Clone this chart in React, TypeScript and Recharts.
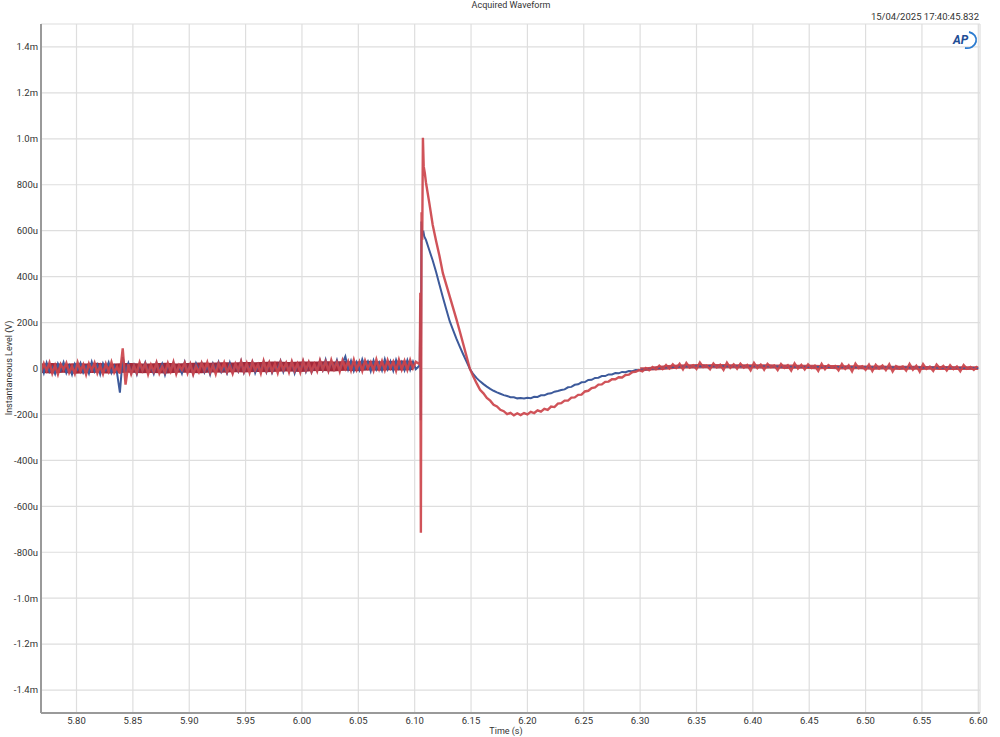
import { Area, CartesianGrid, ComposedChart, Line, XAxis, YAxis } from "recharts";

// time axis (s) and level ticks (uV)
const timeTicks = [5.8, 5.85, 5.9, 5.95, 6.0, 6.05, 6.1, 6.15, 6.2, 6.25, 6.3, 6.35, 6.4, 6.45, 6.5, 6.55, 6.6];
const levelTicks = [-1400, -1200, -1000, -800, -600, -400, -200, 0, 200, 400, 600, 800, 1000, 1200, 1400];

// pre-trigger noise, sampled every 2.5 ms from 5.7685 s
const baseStart = 5.7685;
const baseStep = 0.0025;
const blueBase = [
  18, -20, 25, -14, 6, -24, 21, -8, 27, -19,
  12, -26, 20, -3, 24, -17, 9, -22, 28, -12,
  16, -25, 22, -6, 26, -18, 11, -21, -105, 50,
  -15, 23, -20, 14, -25, 19, -9, 26, -16, 8,
  -23, 24, -11, 20, -27, 15, -5, 25, -19, 10,
  -22, 27, -14, 18, -24, 22, -7, 23, -17, 13,
  -26, 21, -10, 28, -15, 6, -21, 25, -18, 17,
  -12, 32, -17, 20, -6, 29, -19, 15, -10, 30,
  -15, 24, -18, 12, -4, 33, -14, 22, -11, 27,
  -20, 18, -8, 31, -13, 25, -16, 14, -9, 34,
  -5, 38, -9, 29, 0, 36, -8, 24, 52, -3,
  33, -10, 27, -6, 39, 2, 30, -11, 35, -4,
  26, -8, 40, -2, 31, -9, 37, 1, 28, -7,
  36, -5, 30, -3
];
const redBase = [
  -16, 22, -9, 26, -21, 14, -25, 19, -4, 24,
  -18, 10, -23, 27, -11, 17, -26, 21, -7, 25,
  -20, 13, -24, 20, -13, 28, -17, 8, -22, 88,
  -70, 18, -24, 12, -19, 27, -8, 21, -25, 16,
  -14, 26, -21, 9, -18, 23, -12, 28, -23, 14,
  -6, 25, -20, 19, -26, 11, -15, 24, -9, 27,
  -18, 15, -24, 22, -8, 26, -16, 12, -22, 20,
  -9, 31, -14, 23, -18, 28, -7, 17, -21, 32,
  -11, 26, -13, 20, -19, 29, -6, 24, -16, 30,
  -10, 21, -17, 33, -7, 27, -14, 19, -12, 35,
  -4, 30, -10, 37, -2, 28, -12, 35, 0, 31,
  -8, 38, -5, 29, -11, 34, 1, 27, -9, 39,
  -3, 32, -7, 36, 2, 30, -10, 38, -4, 33,
  -6, 37, 1, 29
];
// envelope of the overlapping pre-trigger noise, every 10 ms
const bandStep = 0.01;
const baseLo = [
  -20, -22, -19, -23, -21, -18, -22, -20, -19, -21, -20, -22, -18, -19, -21, -17, -18,
  -16, -17, -15, -16, -14, -13, -15, -12, -11, -13, -10, -12, -9, -10, -8, -9, -7
];
const baseHi = [
  22, 24, 21, 23, 22, 25, 21, 23, 24, 22, 23, 25, 22, 24, 26, 25, 27,
  26, 28, 27, 29, 30, 28, 31, 30, 32, 31, 33, 31, 34, 32, 33, 35, 33
];

// trigger transient
const blueEventT = [6.1045, 6.105, 6.1054, 6.106, 6.1068, 6.1076, 6.1085];
const blueEventV = [14, 300, -225, 640, 580, 600, 575];
const redEventT = [6.1045, 6.105, 6.1055, 6.1061, 6.1067, 6.1073, 6.108, 6.109];
const redEventV = [18, 330, -715, 680, 560, 1005, 880, 850];

// decay and undershoot, every 3 ms from 6.110 s
const decayStart = 6.11;
const decayStep = 0.003;
const blueDecay = [
  560, 515, 470, 420, 365, 310, 258, 207,
  168, 130, 95, 62, 30, -2, -25, -42,
  -56, -68, -79, -89, -97, -104, -110, -116,
  -120, -125, -125, -130, -128, -131, -127, -129,
  -123, -124, -117, -117, -110, -108, -101, -98,
  -94, -91, -82, -80, -71, -69, -60, -59,
  -50, -49, -41, -40, -33, -33, -26, -26,
  -20, -21, -15, -16, -11, -12, -7, -8
];
const redDecay = [
  810, 720, 625, 555, 490, 415, 365, 315,
  265, 215, 162, 108, 53, -2, -35, -65,
  -93, -108, -128, -140, -158, -165, -180, -186,
  -199, -193, -204, -195, -203, -194, -200, -189,
  -194, -182, -188, -176, -180, -166, -168, -153,
  -151, -140, -140, -127, -126, -115, -114, -100,
  -97, -85, -82, -70, -69, -58, -57, -47,
  -47, -38, -39, -28, -27, -16, -14, -7
];

// settled tail
const blueTailT = [6.302, 6.31, 6.32, 6.33, 6.34, 6.36, 6.38, 6.4, 6.43, 6.46, 6.5, 6.54, 6.57, 6.6];
const blueTailV = [-5, -1, 3, 7, 9, 11, 10, 10, 8, 7, 5, 4, 3, 2];
const tailStart = 6.302;
const tailStep = 0.003;
const redTail = [
  -12, 2, -8, 6, -3, 12, -2, 15, 0, 18,
  2, 20, -4, 24, 4, 14, -2, 26, 6, 12,
  -3, 22, 5, 16, -6, 25, 3, 18, -1, 21,
  4, 15, -8, 24, 2, 17, -5, 20, 6, 13,
  -7, 19, 3, 14, -9, 22, 0, 16, -4, 18,
  2, 12, -10, 20, -3, 15, 5, 11, -8, 19,
  -2, 14, -12, 21, 1, 10, -6, 17, -11, 16,
  0, 13, -7, 18, -13, 11, 3, 9, -9, 20,
  -5, 12, -14, 19, -2, 8, -10, 17, 1, 11,
  -8, 14, -3, 9, -12, 15, -1, 7, -6, 10
];
// envelope of the red tail noise, every 10 ms from 6.300 s
const tailBandStart = 6.3;
const tailLo = [-13, -9, -6, -2, 0, 0, 1, 0, 1, 0, 0, -1, 0, -2, -1, -2, -3, -2, -4, -3, -4, -5, -4, -6, -5, -6, -5, -7, -6, -7, -7];
const tailHi = [5, 8, 13, 16, 18, 20, 19, 20, 19, 19, 18, 18, 17, 17, 16, 16, 15, 15, 14, 14, 13, 13, 12, 12, 12, 11, 11, 11, 10, 10, 10];

type Pt = { t: number; v: number };

const uniform = (start: number, step: number, values: number[]): Pt[] =>
  values.map((v, i) => ({ t: +(start + i * step).toFixed(5), v }));
const pairs = (times: number[], values: number[]): Pt[] => times.map((t, i) => ({ t, v: values[i] }));
const band = (start: number, step: number, lo: number[], hi: number[]) =>
  lo.map((l, i) => ({ t: +(start + i * step).toFixed(5), range: [l, hi[i]] }));

const blueData = [
  ...uniform(baseStart, baseStep, blueBase),
  ...pairs(blueEventT, blueEventV),
  ...uniform(decayStart, decayStep, blueDecay),
  ...pairs(blueTailT, blueTailV)
];
const redData = [
  ...uniform(baseStart, baseStep, redBase),
  ...pairs(redEventT, redEventV),
  ...uniform(decayStart, decayStep, redDecay),
  ...uniform(tailStart, tailStep, redTail)
];
const baseBand = band(baseStart, bandStep, baseLo, baseHi);
const tailBand = band(tailBandStart, bandStep, tailLo, tailHi);

const levelFormatter = (v: number) => {
  if (v === 0) return "0";
  if (Math.abs(v) >= 1000) return `${(v / 1000).toFixed(1)}m`;
  return `${v}u`;
};

const font = "Roboto, 'Noto Sans', sans-serif";
const tickStyle = { fontSize: 9.5, fill: "#333", fontFamily: font };

export default function App() {
  return (
    <div style={{ position: "absolute", left: 0, top: 0, width: 1000, height: 737, background: "#fff", fontFamily: font }}>
      <div style={{ position: "absolute", top: 0, left: 0, width: 1022, textAlign: "center", fontSize: 9, color: "#333", lineHeight: "11px" }}>
        Acquired Waveform
      </div>
      <div style={{ position: "absolute", top: 10, right: 21, fontSize: 9.5, color: "#333", lineHeight: "14px" }}>
        15/04/2025 17:40:45.832
      </div>
      <ComposedChart width={1000} height={737} margin={{ top: 24, right: 20, left: 0, bottom: 0 }}>
        <CartesianGrid stroke="#dedede" strokeWidth={1.2} />
        <XAxis
          dataKey="t"
          type="number"
          domain={[5.7685, 6.6015]}
          ticks={timeTicks}
          tickFormatter={(v: number) => v.toFixed(2)}
          allowDataOverflow
          height={24}
          tick={tickStyle}
          tickLine={false}
          tickSize={0}
          tickMargin={4}
          axisLine={{ stroke: "#9a9a9a", strokeWidth: 2 }}
        />
        <XAxis xAxisId="top" orientation="top" type="number" domain={[0, 1]} height={0} tick={false} tickLine={false} axisLine={{ stroke: "#b0b0b0", strokeWidth: 1 }} />
        <YAxis
          type="number"
          domain={[-1500, 1500]}
          ticks={levelTicks}
          tickFormatter={levelFormatter}
          allowDataOverflow
          width={41}
          tick={tickStyle}
          tickLine={false}
          tickSize={0}
          tickMargin={3}
          axisLine={{ stroke: "#9a9a9a", strokeWidth: 2 }}
        />
        <YAxis yAxisId="right" orientation="right" type="number" domain={[0, 1]} width={0} tick={false} tickLine={false} axisLine={{ stroke: "#b0b0b0", strokeWidth: 1 }} />
        <Line
          data={blueData}
          dataKey="v"
          type="linear"
          stroke="#3d5a9b"
          strokeWidth={2}
          dot={false}
          activeDot={false}
          isAnimationActive={false}
        />
        <Line
          data={redData}
          dataKey="v"
          type="linear"
          stroke="#cc444b"
          strokeOpacity={0.92}
          strokeWidth={2.4}
          dot={false}
          activeDot={false}
          isAnimationActive={false}
        />
        <Area
          data={baseBand}
          dataKey="range"
          type="monotone"
          stroke="none"
          fill="#a2283a"
          fillOpacity={1}
          dot={false}
          activeDot={false}
          isAnimationActive={false}
        />
        <Area
          data={tailBand}
          dataKey="range"
          type="monotone"
          stroke="none"
          fill="#c23b45"
          fillOpacity={0.9}
          dot={false}
          activeDot={false}
          isAnimationActive={false}
        />
      </ComposedChart>
      <div
        style={{
          position: "absolute",
          left: 9,
          top: 368,
          transform: "translate(-50%, -50%) rotate(-90deg)",
          whiteSpace: "nowrap",
          fontSize: 9,
          color: "#333"
        }}
      >
        Instantaneous Level (V)
      </div>
      <div style={{ position: "absolute", left: 506, top: 726, transform: "translateX(-50%)", fontSize: 9, color: "#333", lineHeight: "10px" }}>
        Time (s)
      </div>
      <svg style={{ position: "absolute", left: 950, top: 30 }} width={28} height={20}>
        <text x={3} y={14} fontSize={12} fontWeight="bold" fontStyle="italic" fill="#1f4e96" fontFamily={font}>
          AP
        </text>
        <path d="M19 2 A 9 8 0 0 1 15 18" fill="none" stroke="#2b7bd0" strokeWidth={1.8} />
      </svg>
    </div>
  );
}
